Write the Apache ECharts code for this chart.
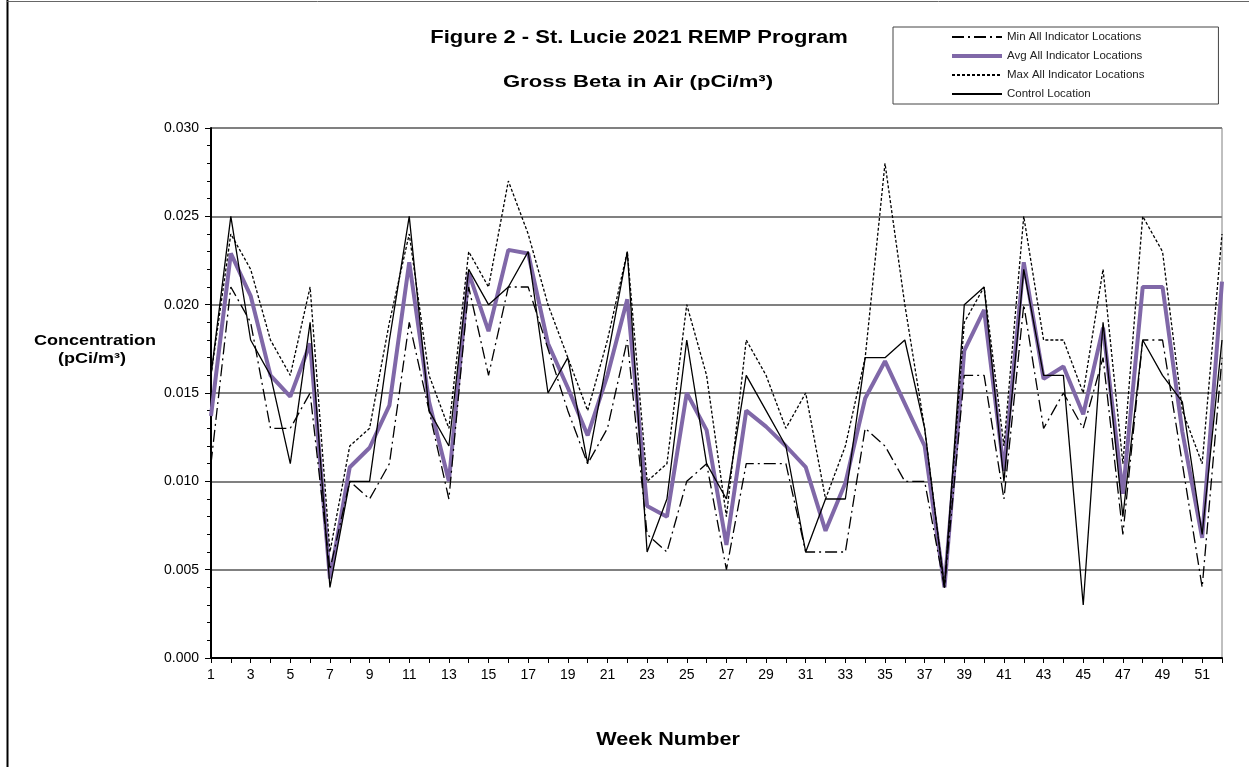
<!DOCTYPE html>
<html>
<head>
<meta charset="utf-8">
<script src="https://cdn.jsdelivr.net/npm/echarts@6/dist/echarts.min.js"></script>
<style>
  html, body { margin: 0; padding: 0; background: #fff; }
  #chart { width: 1249px; height: 767px; }
</style>
</head>
<body>
<div id="chart"></div>
<script>
var weeks = ['1', '2', '3', '4', '5', '6', '7', '8', '9', '10', '11', '12', '13',
  '14', '15', '16', '17', '18', '19', '20', '21', '22', '23', '24', '25', '26',
  '27', '28', '29', '30', '31', '32', '33', '34', '35', '36', '37', '38', '39',
  '40', '41', '42', '43', '44', '45', '46', '47', '48', '49', '50', '51', '52']

var minIndicator = [0.011, 0.021, 0.019, 0.013, 0.013, 0.015, 0.005, 0.010, 0.009, 0.011,
  0.019, 0.014, 0.009, 0.021, 0.016, 0.021, 0.021, 0.0175, 0.014, 0.011,
  0.013, 0.018, 0.007, 0.006, 0.010, 0.011, 0.005, 0.011, 0.011, 0.011,
  0.006, 0.006, 0.006, 0.013, 0.012, 0.010, 0.010, 0.004, 0.016, 0.016,
  0.009, 0.020, 0.013, 0.015, 0.013, 0.017, 0.007, 0.018, 0.018, 0.011,
  0.004, 0.017]

var avgIndicator = [0.0137, 0.0229, 0.0205, 0.0160, 0.0148, 0.0178, 0.0045, 0.0108, 0.0119, 0.0143,
  0.0224, 0.0145, 0.0100, 0.0218, 0.0185, 0.0231, 0.0229, 0.0178, 0.0153, 0.0126,
  0.0160, 0.0203, 0.0086, 0.0080, 0.0150, 0.0129, 0.0064, 0.0140, 0.0131, 0.0120,
  0.0108, 0.0072, 0.0099, 0.0147, 0.0168, 0.0144, 0.0120, 0.0040, 0.0174, 0.0197,
  0.0106, 0.0224, 0.0158, 0.0165, 0.0138, 0.0187, 0.0093, 0.0210, 0.0210, 0.0128,
  0.0068, 0.0213]

var maxIndicator = [0.016, 0.024, 0.022, 0.018, 0.016, 0.021, 0.006, 0.012, 0.013, 0.019,
  0.024, 0.016, 0.013, 0.023, 0.021, 0.027, 0.024, 0.020, 0.017, 0.014,
  0.018, 0.023, 0.010, 0.011, 0.020, 0.016, 0.008, 0.018, 0.016, 0.013,
  0.015, 0.009, 0.012, 0.017, 0.028, 0.020, 0.013, 0.004, 0.019, 0.021,
  0.012, 0.025, 0.018, 0.018, 0.015, 0.022, 0.011, 0.025, 0.023, 0.014,
  0.011, 0.024]

var controlLocation = [0.016, 0.025, 0.018, 0.016, 0.011, 0.019, 0.004, 0.010, 0.010, 0.018,
  0.025, 0.014, 0.012, 0.022, 0.020, 0.021, 0.023, 0.015, 0.017, 0.011,
  0.017, 0.023, 0.006, 0.009, 0.018, 0.011, 0.009, 0.016, 0.014, 0.012,
  0.006, 0.009, 0.009, 0.017, 0.017, 0.018, 0.013, 0.004, 0.020, 0.021,
  0.010, 0.022, 0.016, 0.016, 0.003, 0.019, 0.008, 0.018, 0.016, 0.0145,
  0.007, 0.018]

var seriesNames = ['Min All Indicator Locations', 'Avg All Indicator Locations',
  'Max All Indicator Locations', 'Control Location']

var font = 'Liberation Sans, Arial, sans-serif'

// the original's headings are a bit wider than plain Arial, so stretch them
function label (text, x, y, size, sx) {
  return {
    type: 'text', x: x, y: y, scaleX: sx,
    style: { text: text, textAlign: 'center', textVerticalAlign: 'middle', font: 'bold ' + size + 'px ' + font, fill: '#000' }
  }
}

var myChart = echarts.init(document.getElementById('chart'))

var option = {
  backgroundColor: '#fff',
  animation: false,
  textStyle: { fontFamily: font },
  grid: {
    left: 211, right: 27, top: 128, bottom: 109,
    show: true, borderColor: '#808080', borderWidth: 1
  },
  legend: {
    data: [
      seriesNames[0],
      { name: seriesNames[1], lineStyle: { width: 4 } },
      seriesNames[2],
      seriesNames[3]
    ],
    orient: 'vertical',
    left: 893,
    top: 27,
    padding: [4, 74, 4, 57],
    itemGap: 7,
    itemWidth: 50,
    itemHeight: 12,
    borderColor: '#444',
    borderWidth: 1,
    itemStyle: { opacity: 0 },
    textStyle: { fontSize: 11.5, color: '#222', fontFamily: font }
  },
  xAxis: {
    type: 'category',
    data: weeks,
    boundaryGap: false,
    axisLine: { lineStyle: { color: '#000', width: 2 } },
    axisTick: { interval: 0, length: 5, lineStyle: { color: '#000' } },
    axisLabel: { interval: 1, fontSize: 14, color: '#000', margin: 10 },
    splitLine: { show: false }
  },
  yAxis: {
    type: 'value',
    min: 0,
    max: 0.03,
    interval: 0.005,
    axisLine: { show: true, lineStyle: { color: '#000', width: 2 } },
    axisTick: { show: true, length: 6, lineStyle: { color: '#000' } },
    minorTick: { show: true, splitNumber: 5, length: 4, lineStyle: { color: '#000' } },
    axisLabel: {
      fontSize: 14, color: '#000', margin: 12,
      formatter: function (v) { return v.toFixed(3) }
    },
    splitLine: { show: true, lineStyle: { color: '#808080', width: 2 } }
  },
  graphic: [
    { type: 'line', shape: { x1: 7.5, y1: 0, x2: 7.5, y2: 767 }, style: { stroke: '#000', lineWidth: 2 } },
    { type: 'line', shape: { x1: 7, y1: 1.5, x2: 1249, y2: 1.5 }, style: { stroke: '#666', lineWidth: 1 } },
    label('Figure 2 - St. Lucie 2021 REMP Program', 639, 38, 18, 1.22),
    label('Gross Beta in Air (pCi/m³)', 638, 82, 17, 1.3),
    label('Concentration', 95, 341, 15, 1.2),
    label('(pCi/m³)', 92, 359, 15, 1.2),
    label('Week Number', 668, 740, 18, 1.2)
  ],
  series: [
    {
      name: seriesNames[0],
      type: 'line',
      data: minIndicator,
      symbol: 'none',
      z: 3,
      lineStyle: { color: '#000', width: 1.3, type: [12, 4, 2, 4] },
      itemStyle: { color: '#000' }
    },
    {
      name: seriesNames[1],
      type: 'line',
      data: avgIndicator,
      symbol: 'none',
      z: 2,
      lineStyle: { color: '#8068A8', width: 4 },
      itemStyle: { color: '#8068A8' }
    },
    {
      name: seriesNames[2],
      type: 'line',
      data: maxIndicator,
      symbol: 'none',
      z: 3,
      lineStyle: { color: '#000', width: 1.3, type: [3, 2] },
      itemStyle: { color: '#000' }
    },
    {
      name: seriesNames[3],
      type: 'line',
      data: controlLocation,
      symbol: 'none',
      z: 4,
      lineStyle: { color: '#000', width: 1.3 },
      itemStyle: { color: '#000' }
    }
  ]
}

myChart.setOption(option)
</script>
</body>
</html>
